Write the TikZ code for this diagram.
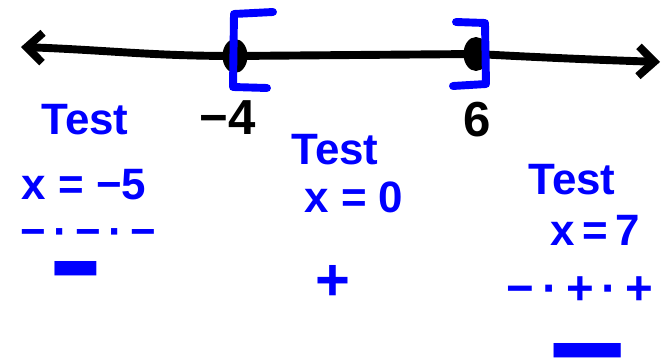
\documentclass[tikz,border=0pt]{standalone}
\usepackage{fontspec}
\setmainfont{Liberation Sans}
\usetikzlibrary{arrows.meta,positioning,shapes.geometric}
\definecolor{penblue}{RGB}{0,0,255}
\newcommand{\barsign}[1]{\raisebox{-0.9em}[0.33em][0pt]{\scalebox{#1}[3]{−}}}

\begin{document}
\begin{tikzpicture}[x=0.02cm, y=-0.02cm,
    pen/.style={line width=4.5pt, line cap=round, line join=round},
    endpt/.style={ellipse, fill=black, minimum width=0.5cm, minimum height=0.68cm, inner sep=0pt},
    note/.style={text=penblue, font=\fontsize{25}{28}\selectfont\bfseries, inner sep=0pt},
    tick/.style={text=black, font=\fontsize{28}{30}\selectfont\bfseries, inner sep=0pt}]
    \useasboundingbox (0,0) rectangle (664,361);

    % number line
    \coordinate (lefttip) at (21,47);
    \coordinate (righttip) at (660,62);
    \node[endpt] (dotA) at (235,56) {};
    \node[endpt] (dotB) at (476,54) {};
    \draw[pen, {Straight Barb[length=9pt,width=17pt]}-{Straight Barb[length=9pt,width=17pt]}]
        (lefttip) to[out=-2,in=180] (dotA.center) -- (dotB.center) to[out=-3,in=178] (righttip);

    % brackets
    \draw[pen, penblue] (273,12) -- (234,14) -- (233,87) -- (267,88);
    \draw[pen, penblue] (456,22) -- (485,23) -- (486,84) -- (453,86);

    \node[tick] (minusfour) at (228,118) {−4};
    \node[tick] (six) at (477,120) {6};

    % test points
    \node[note] (testA) at (85,120) {Test};
    \node[note] (valA) at (84,185) {x = −5};
    \node[note] (signA) at (88,238) {−\,·\,−\,·\,−};
    \node[note] (resA) at (76,266) {\barsign{1.9}};

    \node[note] (testB) at (335,150) {Test};
    \node[note] (valB) at (354,197) {x = 0};
    \node[note, font=\fontsize{34}{36}\selectfont\bfseries] (resB) at (333,283) {+};

    \node[note] (testC) at (572,180) {Test};
    \node[note] (valC) at (595,230) {x\,=\,7};
    \node[note, font=\fontsize{27}{30}\selectfont\bfseries] (signC) at (580,291) {−\,·\,+\,·\,+};
    \node[note] (resC) at (588,348) {\barsign{3.05}};
\end{tikzpicture}
\end{document}
